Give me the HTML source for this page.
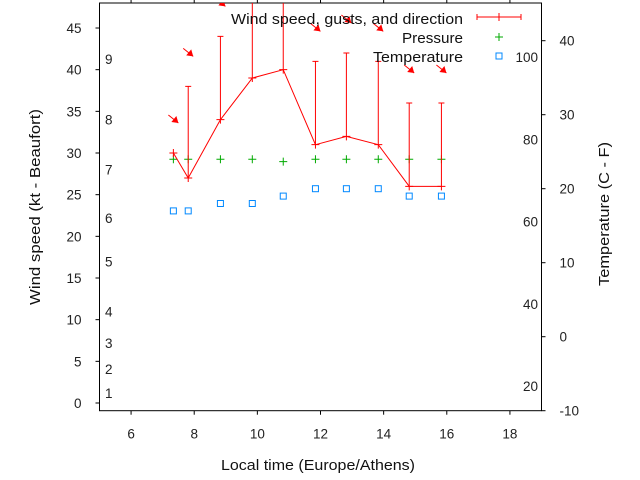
<!DOCTYPE html>
<html><head><meta charset="utf-8"><style>
body{margin:0;background:#fff}
svg{display:block;font-family:"Liberation Sans",sans-serif}
</style></head><body>
<svg id="c" width="640" height="480" viewBox="0 0 640 480">
<rect x="0" y="0" width="640" height="480" fill="#fff"/>
<g id="g"></g>
</svg>
<script>
const times=[7.34,7.81,8.83,9.84,10.82,11.84,12.82,13.83,14.81,15.83];
const wind=[30,27,34,39,40,31,32,31,26,26];
const gusts=[30,38,44,50,52,41,42,41,36,36];
const pressure=[29.25,29.25,29.25,29.25,28.97,29.25,29.25,29.25,29.25,29.25];
const temperature=[17,17,18,18,19,20,20,20,19,19];
const xTicks=[6,8,10,12,14,16,18];
const yTicks=[0,5,10,15,20,25,30,35,40,45];
const cTicks=[-10,0,10,20,30,40];
const fLabels=[20,40,60,80,100];
const bLabels=[1,2,3,4,5,6,7,8,9];
const bPos=[1.2,4.1,7.2,11,17,22.2,28,34,41.3];
const L=99.5,R=541.5,T=3,B=410.7;
const xs=t=>L+(t-5)*(R-L)/14;
const ys=v=>403-v*8.333;
const yc=c=>B-(c+10)*7.4;
const yf=f=>yc((f-32)*5/9);
const NS="http://www.w3.org/2000/svg";
const g=document.getElementById('g');
function el(tag,a,txt){const e=document.createElementNS(NS,tag);for(const k in a)e.setAttribute(k,a[k]);if(txt!==undefined)e.textContent=txt;g.appendChild(e);return e;}
let e=el('rect',{x:L,y:T,width:R-L,height:B-T,fill:'none',stroke:'#000','stroke-width':1});


xTicks.forEach(t=>{
 let x=xs(t);
 let a=el('line',{x1:x,y1:B,x2:x,y2:B+4,stroke:'#000'});
 
 
 let b=el('line',{x1:x,y1:T,x2:x,y2:T-4,stroke:'#000'});
 
 
 let l=el('text',{x:x,y:B+28,'font-size':13.5,'text-anchor':'middle',fill:'#222'},t);
 
 
});
yTicks.forEach(v=>{
 let y=ys(v);
 let a=el('line',{x1:L-4,y1:y,x2:L,y2:y,stroke:'#000'});
 
 
 let l=el('text',{x:L-18,y:y+5,'font-size':13.5,'text-anchor':'end',fill:'#222'},v);
 
 
});
cTicks.forEach(c=>{
 let y=yc(c);
 let a=el('line',{x1:R,y1:y,x2:R+4,y2:y,stroke:'#000'});
 
 
 let l=el('text',{x:R+18,y:y+5,'font-size':13.5,'text-anchor':'start',fill:'#222'},c);
 
 
});
fLabels.forEach(f=>{
 let l=el('text',{x:538,y:yf(f)+5,'font-size':13.5,'text-anchor':'end',fill:'#222'},f);
 
 
});
bLabels.forEach((b,i)=>{
 let l=el('text',{x:105,y:ys(bPos[i])+5,'font-size':13.5,fill:'#222'},b);
 
 
});
const defs=el('defs',{});
const cp=document.createElementNS(NS,'clipPath');cp.setAttribute('id','cl');
const cr=document.createElementNS(NS,'rect');cr.setAttribute('x',L);cr.setAttribute('y',T);cr.setAttribute('width',R-L);cr.setAttribute('height',B-T);
cp.appendChild(cr);defs.appendChild(cp);
const cg=document.createElementNS(NS,'g');cg.setAttribute('clip-path','url(#cl)');g.appendChild(cg);
function cel(tag,a){const e=document.createElementNS(NS,tag);for(const k in a)e.setAttribute(k,a[k]);cg.appendChild(e);return e;}
times.forEach((t,i)=>{
 const x=xs(t),py=ys(pressure[i]);
 let p=cel('path',{d:`M${x-4},${py}H${x+4}M${x},${py-4}V${py+4}`,stroke:'#0a0'});
 
 
 const ty=yc(temperature[i]);
 let s=cel('rect',{x:x-3,y:ty-3,width:6,height:6,fill:'none',stroke:'#08f'});
 
 
});
let pl=cel('polyline',{points:times.map((t,i)=>xs(t)+','+ys(wind[i])).join(' '),fill:'none',stroke:'#f00','stroke-width':1});


times.forEach((t,i)=>{
 const x=xs(t),y=ys(wind[i]),gy=ys(gusts[i]);
 let eb=cel('path',{d:`M${x},${y}V${gy}M${x-3},${gy}H${x+3}M${x-4},${y}H${x+4}M${x},${y-4}V${y+4}`,stroke:'#f00',fill:'none'});
 
 
 const ay=ys(gusts[i]+3.6),ax=x+5;
 let ar=cel('line',{x1:ax-10,y1:ay-8,x2:ax,y2:ay,stroke:'#f00'});
 
 
 let ah=cel('polygon',{points:`${ax},${ay} ${ax-7},${ay-1} ${ax-2},${ay-7}`,fill:'#f00'});
 
 
});
const lg=[["Wind speed, gusts, and direction",19,232],["Pressure",38,61],["Temperature",57,90]];
lg.forEach((d,i)=>{
 let t=el('text',{x:463,y:d[1]+5,'font-size':15,'text-anchor':'end',fill:'#111',textLength:d[2],lengthAdjust:'spacingAndGlyphs'},d[0]);
 
 
});
let l1=el('path',{d:'M477,17H521M477,14V20M521,14V20M499,13V21',stroke:'#f00',fill:'none'});


let l2=el('path',{d:'M495,37H503M499,33V41',stroke:'#0a0'});


let l3=el('rect',{x:496,y:53,width:6,height:6,fill:'none',stroke:'#08f'});


let xt=el('text',{x:318,y:470,'font-size':15,'text-anchor':'middle',fill:'#111',textLength:194,lengthAdjust:'spacingAndGlyphs'},'Local time (Europe/Athens)');


let yt=el('text',{x:0,y:0,'font-size':15,'text-anchor':'middle',fill:'#111',transform:'translate(40,207) rotate(-90)',textLength:196,lengthAdjust:'spacingAndGlyphs'},'Wind speed (kt - Beaufort)');


let y2=el('text',{x:0,y:0,'font-size':15,'text-anchor':'middle',fill:'#111',transform:'translate(609,214) rotate(-90)',textLength:144,lengthAdjust:'spacingAndGlyphs'},'Temperature (C - F)');


</script>
</body></html>
